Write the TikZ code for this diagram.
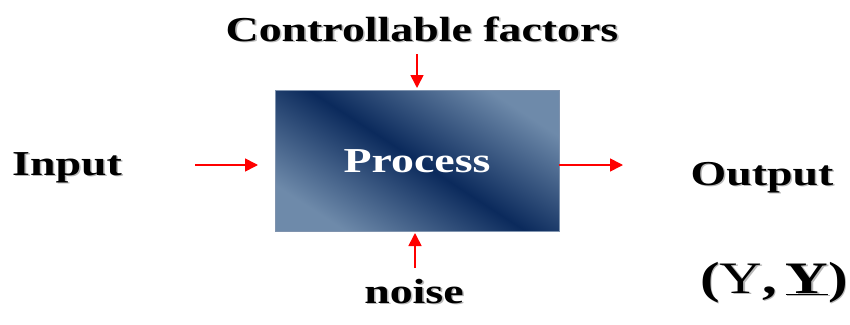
\documentclass[tikz,border=0pt]{standalone}
\usepackage{fontspec}
\setmainfont{Liberation Serif}
\usetikzlibrary{arrows.meta}
\definecolor{boxlight}{HTML}{6E8AAA}
\definecolor{boxdark}{HTML}{0B2A5C}
\definecolor{boxedge}{HTML}{7F93AE}
\definecolor{shadowgray}{HTML}{B8B8B8}
\newcommand{\shtext}[1]{\makebox[0pt][l]{\hspace{1.2pt}\raisebox{-1.2pt}{\textcolor{shadowgray}{#1}}}#1}
\tikzset{
  lbl/.style={font=\bfseries\fontsize{35}{38}\selectfont, anchor=base, inner sep=0pt, transform shape, xscale=1.31},
  redarrow/.style={draw=red, line width=1.6pt, -{Triangle[length=13pt,width=13pt]}},
}
\begin{document}
\begin{tikzpicture}[x=1pt,y=-1pt]
\useasboundingbox (0,0) rectangle (850,324);
% box
\path[top color=boxlight, bottom color=boxlight, middle color=boxdark, shading angle=-33]
  (275,90) rectangle (559,231);
\draw[boxedge, line width=0.8pt] (275,90) rectangle (559,231);
\node[lbl, text=white] (proc) at (417,172) {Process};
% texts
\node[lbl] (ctrl) at (422,41) {\shtext{Controllable factors}};
\node[lbl] (inp) at (67,175) {\shtext{Input}};
\node[lbl] (outp) at (762,185) {\shtext{Output}};
\node[lbl] (noise) at (414,303) {\shtext{noise}};
\node[lbl, font=\fontsize{45}{48}\selectfont, xscale=1] (yy) at (774,293)
  {\shtext{\textbf{(}Y\textbf{,}\hspace{0.15em}\textbf{\underline{Y})}}};
% arrow ends
\coordinate (ia) at (195,165); \coordinate (ib) at (258,165);
\coordinate (oa) at (559,165); \coordinate (ob) at (623,165);
\coordinate (ta) at (417,54);  \coordinate (tb) at (417,88);
\coordinate (na) at (415,268); \coordinate (nb) at (415,233);
\draw[redarrow] (ia) -- (ib);
\draw[redarrow] (oa) -- (ob);
\draw[redarrow] (ta) -- (tb);
\draw[redarrow] (na) -- (nb);
\end{tikzpicture}
\end{document}
